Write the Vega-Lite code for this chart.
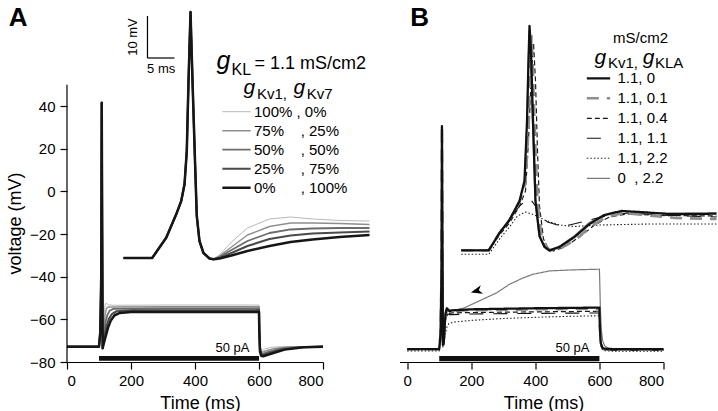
{
"$schema":"https://vega.github.io/schema/vega-lite/v6.json",
"background":"white",
"padding":{"left":6,"top":5,"right":0,"bottom":0},
"bounds":"flush",
"spacing":76.5,
"config":{"font":"Liberation Sans","view":{"stroke":null},
"axis":{"grid":false,"labelFont":"Liberation Sans","titleFont":"Liberation Sans","domainColor":"#000","tickColor":"#000","labelColor":"#000","titleColor":"#000","titleFontWeight":"normal","labelFontSize":15,"titleFontSize":18,"tickSize":7,"domainWidth":1.2,"tickWidth":1.2},
"legend":{"labelFont":"Liberation Sans","labelColor":"#000"},
"text":{"font":"Liberation Sans","color":"#000"}},
"datasets":{
"amain":[
{"s":"A1","t":0,"v":-72.8},{"s":"A1","t":100,"v":-72.8},{"s":"A1","t":104,"v":-66},{"s":"A1","t":107,"v":-40},{"s":"A1","t":108.5,"v":41.5},{"s":"A1","t":110,"v":-20},{"s":"A1","t":111.5,"v":-73.5},
{"s":"A1","t":113,"v":-70},{"s":"A1","t":115,"v":-62},{"s":"A1","t":117,"v":-55.5},{"s":"A1","t":120,"v":-52.7},{"s":"A1","t":124,"v":-52.6},{"s":"A1","t":130,"v":-53.2},{"s":"A1","t":145,"v":-53.4},{"s":"A1","t":300,"v":-53.3},{"s":"A1","t":600,"v":-53.3},{"s":"A1","t":601,"v":-62},{"s":"A1","t":603,"v":-71},{"s":"A1","t":606,"v":-74.3},{"s":"A1","t":610,"v":-74.5},{"s":"A1","t":620,"v":-73.8},{"s":"A1","t":640,"v":-73.1},{"s":"A1","t":670,"v":-72.8},{"s":"A1","t":800,"v":-72.8},
{"s":"A2","t":0,"v":-72.8},{"s":"A2","t":100,"v":-72.8},{"s":"A2","t":104,"v":-66},{"s":"A2","t":107,"v":-40},{"s":"A2","t":108.5,"v":41.5},{"s":"A2","t":110,"v":-20},{"s":"A2","t":111.5,"v":-73.5},
{"s":"A2","t":113,"v":-71},{"s":"A2","t":116,"v":-64},{"s":"A2","t":119,"v":-58},{"s":"A2","t":123,"v":-55},{"s":"A2","t":128,"v":-54.2},{"s":"A2","t":140,"v":-54.2},{"s":"A2","t":300,"v":-54.1},{"s":"A2","t":600,"v":-54.1},{"s":"A2","t":601,"v":-63},{"s":"A2","t":603,"v":-72},{"s":"A2","t":606,"v":-75.2},{"s":"A2","t":611,"v":-75.4},{"s":"A2","t":625,"v":-74.6},{"s":"A2","t":650,"v":-73.6},{"s":"A2","t":690,"v":-73.0},{"s":"A2","t":800,"v":-72.8},
{"s":"A3","t":0,"v":-72.8},{"s":"A3","t":100,"v":-72.8},{"s":"A3","t":104,"v":-66},{"s":"A3","t":107,"v":-40},{"s":"A3","t":108.5,"v":41.5},{"s":"A3","t":110,"v":-20},{"s":"A3","t":111.5,"v":-73.5},
{"s":"A3","t":113,"v":-71.5},{"s":"A3","t":117,"v":-66},{"s":"A3","t":121,"v":-61},{"s":"A3","t":126,"v":-58},{"s":"A3","t":133,"v":-56},{"s":"A3","t":145,"v":-55.1},{"s":"A3","t":300,"v":-54.9},{"s":"A3","t":600,"v":-54.9},{"s":"A3","t":601,"v":-64},{"s":"A3","t":603,"v":-73},{"s":"A3","t":607,"v":-76},{"s":"A3","t":612,"v":-76.2},{"s":"A3","t":630,"v":-75.2},{"s":"A3","t":660,"v":-74.0},{"s":"A3","t":710,"v":-73.1},{"s":"A3","t":800,"v":-72.8},
{"s":"A4","t":0,"v":-72.8},{"s":"A4","t":100,"v":-72.8},{"s":"A4","t":104,"v":-66},{"s":"A4","t":107,"v":-40},{"s":"A4","t":108.5,"v":41.5},{"s":"A4","t":110,"v":-20},{"s":"A4","t":111.5,"v":-73.5},
{"s":"A4","t":113,"v":-72},{"s":"A4","t":118,"v":-67.5},{"s":"A4","t":124,"v":-63},{"s":"A4","t":131,"v":-59.8},{"s":"A4","t":140,"v":-57.6},{"s":"A4","t":155,"v":-56.2},{"s":"A4","t":200,"v":-55.8},{"s":"A4","t":600,"v":-55.7},{"s":"A4","t":601,"v":-65},{"s":"A4","t":603,"v":-74},{"s":"A4","t":607,"v":-76.6},{"s":"A4","t":612,"v":-76.8},{"s":"A4","t":635,"v":-75.7},{"s":"A4","t":670,"v":-74.2},{"s":"A4","t":730,"v":-73.1},{"s":"A4","t":800,"v":-72.8},
{"s":"A5","t":0,"v":-72.8},{"s":"A5","t":100,"v":-72.8},{"s":"A5","t":104,"v":-66},{"s":"A5","t":107,"v":-40},{"s":"A5","t":108.5,"v":41.5},{"s":"A5","t":110,"v":-20},{"s":"A5","t":111.5,"v":-73.5},
{"s":"A5","t":113,"v":-72.5},{"s":"A5","t":120,"v":-68.5},{"s":"A5","t":128,"v":-64},{"s":"A5","t":137,"v":-60.5},{"s":"A5","t":148,"v":-58.2},{"s":"A5","t":165,"v":-57},{"s":"A5","t":200,"v":-56.6},{"s":"A5","t":600,"v":-56.5},{"s":"A5","t":601,"v":-66},{"s":"A5","t":603,"v":-75},{"s":"A5","t":607,"v":-77.1},{"s":"A5","t":613,"v":-77.3},{"s":"A5","t":640,"v":-76.0},{"s":"A5","t":680,"v":-74.2},{"s":"A5","t":740,"v":-73.1},{"s":"A5","t":800,"v":-72.8}
],
"ainset":[
{"s":"A1","t":0,"v":-60},{"s":"A1","t":5.31,"v":-60},{"s":"A1","t":7.91,"v":-55.17},{"s":"A1","t":9.76,"v":-49.6},{"s":"A1","t":10.69,"v":-46.43},{"s":"A1","t":11.3,"v":-42.45},{"s":"A1","t":11.72,"v":-34.52},{"s":"A1","t":12.04,"v":-17.86},{"s":"A1","t":12.41,"v":-1.43},{"s":"A1","t":12.78,"v":-17.86},{"s":"A1","t":13.24,"v":-36.9},{"s":"A1","t":13.57,"v":-50.0},{"s":"A1","t":14.07,"v":-55.95},{"s":"A1","t":14.81,"v":-58.81},{"s":"A1","t":15.93,"v":-60.12},{"s":"A1","t":16.67,"v":-60.31},
{"s":"A1","t":17.78,"v":-59.29},{"s":"A1","t":20.0,"v":-56.19},{"s":"A1","t":22.96,"v":-52.86},{"s":"A1","t":27.04,"v":-50.71},{"s":"A1","t":30.93,"v":-50.24},{"s":"A1","t":35.0,"v":-50.71},{"s":"A1","t":40.0,"v":-51.07},{"s":"A1","t":45.56,"v":-51.19},
{"s":"A2","t":0,"v":-60},{"s":"A2","t":5.31,"v":-60},{"s":"A2","t":7.91,"v":-55.17},{"s":"A2","t":9.76,"v":-49.6},{"s":"A2","t":10.69,"v":-46.43},{"s":"A2","t":11.3,"v":-42.45},{"s":"A2","t":11.72,"v":-34.52},{"s":"A2","t":12.04,"v":-17.86},{"s":"A2","t":12.41,"v":-1.43},{"s":"A2","t":12.78,"v":-17.86},{"s":"A2","t":13.24,"v":-36.9},{"s":"A2","t":13.57,"v":-50.0},{"s":"A2","t":14.07,"v":-55.95},{"s":"A2","t":14.81,"v":-58.81},{"s":"A2","t":15.93,"v":-60.12},{"s":"A2","t":16.67,"v":-60.31},
{"s":"A2","t":17.78,"v":-59.52},{"s":"A2","t":20.0,"v":-57.38},{"s":"A2","t":22.96,"v":-54.52},{"s":"A2","t":27.04,"v":-52.5},{"s":"A2","t":30.93,"v":-51.67},{"s":"A2","t":35.0,"v":-51.67},{"s":"A2","t":40.0,"v":-51.79},{"s":"A2","t":45.56,"v":-52.02},
{"s":"A3","t":0,"v":-60},{"s":"A3","t":5.31,"v":-60},{"s":"A3","t":7.91,"v":-55.17},{"s":"A3","t":9.76,"v":-49.6},{"s":"A3","t":10.69,"v":-46.43},{"s":"A3","t":11.3,"v":-42.45},{"s":"A3","t":11.72,"v":-34.52},{"s":"A3","t":12.04,"v":-17.86},{"s":"A3","t":12.41,"v":-1.43},{"s":"A3","t":12.78,"v":-17.86},{"s":"A3","t":13.24,"v":-36.9},{"s":"A3","t":13.57,"v":-50.0},{"s":"A3","t":14.07,"v":-55.95},{"s":"A3","t":14.81,"v":-58.81},{"s":"A3","t":15.93,"v":-60.12},{"s":"A3","t":16.67,"v":-60.31},
{"s":"A3","t":17.78,"v":-59.76},{"s":"A3","t":20.0,"v":-58.1},{"s":"A3","t":22.96,"v":-55.95},{"s":"A3","t":27.04,"v":-54.05},{"s":"A3","t":30.93,"v":-53.21},{"s":"A3","t":35.0,"v":-52.98},{"s":"A3","t":40.0,"v":-52.86},{"s":"A3","t":45.56,"v":-52.86},
{"s":"A4","t":0,"v":-60},{"s":"A4","t":5.31,"v":-60},{"s":"A4","t":7.91,"v":-55.17},{"s":"A4","t":9.76,"v":-49.6},{"s":"A4","t":10.69,"v":-46.43},{"s":"A4","t":11.3,"v":-42.45},{"s":"A4","t":11.72,"v":-34.52},{"s":"A4","t":12.04,"v":-17.86},{"s":"A4","t":12.41,"v":-1.43},{"s":"A4","t":12.78,"v":-17.86},{"s":"A4","t":13.24,"v":-36.9},{"s":"A4","t":13.57,"v":-50.0},{"s":"A4","t":14.07,"v":-55.95},{"s":"A4","t":14.81,"v":-58.81},{"s":"A4","t":15.93,"v":-60.12},{"s":"A4","t":16.67,"v":-60.31},
{"s":"A4","t":17.78,"v":-60.0},{"s":"A4","t":20.0,"v":-58.81},{"s":"A4","t":22.96,"v":-57.14},{"s":"A4","t":27.04,"v":-55.48},{"s":"A4","t":30.93,"v":-54.64},{"s":"A4","t":35.0,"v":-54.17},{"s":"A4","t":40.0,"v":-53.93},{"s":"A4","t":45.56,"v":-53.69},
{"s":"A5","t":0,"v":-60},{"s":"A5","t":5.31,"v":-60},{"s":"A5","t":7.91,"v":-55.17},{"s":"A5","t":9.76,"v":-49.6},{"s":"A5","t":10.69,"v":-46.43},{"s":"A5","t":11.3,"v":-42.45},{"s":"A5","t":11.72,"v":-34.52},{"s":"A5","t":12.04,"v":-17.86},{"s":"A5","t":12.41,"v":-1.43},{"s":"A5","t":12.78,"v":-17.86},{"s":"A5","t":13.24,"v":-36.9},{"s":"A5","t":13.57,"v":-50.0},{"s":"A5","t":14.07,"v":-55.95},{"s":"A5","t":14.81,"v":-58.81},{"s":"A5","t":15.93,"v":-60.12},{"s":"A5","t":16.67,"v":-60.31},
{"s":"A5","t":17.78,"v":-60.12},{"s":"A5","t":20.0,"v":-59.4},{"s":"A5","t":22.96,"v":-58.33},{"s":"A5","t":27.04,"v":-57.14},{"s":"A5","t":30.93,"v":-56.19},{"s":"A5","t":35.0,"v":-55.6},{"s":"A5","t":40.0,"v":-55.0},{"s":"A5","t":45.56,"v":-54.52}
],
"bmain":[
{"s":"B6","t":0,"v":-74},{"s":"B6","t":100,"v":-74},{"s":"B6","t":104,"v":-67},{"s":"B6","t":107,"v":-40},{"s":"B6","t":108.5,"v":30.6},{"s":"B6","t":110,"v":-20},{"s":"B6","t":111.5,"v":-72},
{"s":"B6","t":114,"v":-71},{"s":"B6","t":117,"v":-63},{"s":"B6","t":120,"v":-57},{"s":"B6","t":124,"v":-55},{"s":"B6","t":128,"v":-55.4},{"s":"B6","t":135,"v":-55.8},{"s":"B6","t":153,"v":-55.6},{"s":"B6","t":180,"v":-54.5},{"s":"B6","t":236,"v":-50.6},{"s":"B6","t":280,"v":-47.5},{"s":"B6","t":319,"v":-43.6},{"s":"B6","t":360,"v":-40.7},{"s":"B6","t":392,"v":-38.9},{"s":"B6","t":444,"v":-37.3},{"s":"B6","t":517,"v":-36.8},{"s":"B6","t":600,"v":-36.5},{"s":"B6","t":601,"v":-42},{"s":"B6","t":603,"v":-55},{"s":"B6","t":606,"v":-65},{"s":"B6","t":610,"v":-70},{"s":"B6","t":616,"v":-72.3},{"s":"B6","t":625,"v":-73.3},{"s":"B6","t":650,"v":-73.9},{"s":"B6","t":800,"v":-74},
{"s":"B5","t":0,"v":-74.8},{"s":"B5","t":100,"v":-74.8},{"s":"B5","t":104,"v":-68},{"s":"B5","t":107,"v":-42},{"s":"B5","t":108.5,"v":28},{"s":"B5","t":110,"v":-22},{"s":"B5","t":111.5,"v":-73},{"s":"B5","t":114,"v":-72.5},{"s":"B5","t":118,"v":-68},{"s":"B5","t":123,"v":-64},{"s":"B5","t":130,"v":-62},{"s":"B5","t":145,"v":-61.3},{"s":"B5","t":200,"v":-60.5},{"s":"B5","t":300,"v":-59.6},{"s":"B5","t":450,"v":-58.8},{"s":"B5","t":600,"v":-58.3},{"s":"B5","t":601,"v":-64},{"s":"B5","t":605,"v":-72.5},{"s":"B5","t":612,"v":-74.6},{"s":"B5","t":640,"v":-74.9},{"s":"B5","t":800,"v":-74.9},
{"s":"B4","t":0,"v":-74},{"s":"B4","t":100,"v":-74},{"s":"B4","t":104,"v":-67},{"s":"B4","t":107,"v":-40},{"s":"B4","t":108.5,"v":30.6},{"s":"B4","t":110,"v":-20},{"s":"B4","t":111.5,"v":-72},
{"s":"B4","t":114,"v":-72},{"s":"B4","t":117,"v":-66},{"s":"B4","t":121,"v":-60},{"s":"B4","t":126,"v":-57.5},{"s":"B4","t":132,"v":-57.8},{"s":"B4","t":140,"v":-57.8},{"s":"B4","t":200,"v":-57.5},{"s":"B4","t":400,"v":-57.2},{"s":"B4","t":600,"v":-57.0},{"s":"B4","t":601,"v":-64},{"s":"B4","t":604,"v":-72.5},{"s":"B4","t":610,"v":-74.2},{"s":"B4","t":630,"v":-74.5},{"s":"B4","t":800,"v":-74.5},
{"s":"B3","t":0,"v":-74},{"s":"B3","t":100,"v":-74},{"s":"B3","t":104,"v":-67},{"s":"B3","t":107,"v":-40},{"s":"B3","t":108.5,"v":30.6},{"s":"B3","t":110,"v":-20},{"s":"B3","t":111.5,"v":-72},
{"s":"B3","t":114,"v":-71.8},{"s":"B3","t":117,"v":-65},{"s":"B3","t":120,"v":-59},{"s":"B3","t":124,"v":-56},{"s":"B3","t":128,"v":-56.4},{"s":"B3","t":132,"v":-57.2},{"s":"B3","t":140,"v":-57},{"s":"B3","t":200,"v":-56.8},{"s":"B3","t":400,"v":-56.5},{"s":"B3","t":600,"v":-56.2},{"s":"B3","t":601,"v":-63},{"s":"B3","t":604,"v":-72},{"s":"B3","t":610,"v":-74},{"s":"B3","t":630,"v":-74.3},{"s":"B3","t":800,"v":-74.4},
{"s":"B2","t":0,"v":-74},{"s":"B2","t":100,"v":-74},{"s":"B2","t":104,"v":-67},{"s":"B2","t":107,"v":-40},{"s":"B2","t":108.5,"v":30.6},{"s":"B2","t":110,"v":-20},{"s":"B2","t":111.5,"v":-72},
{"s":"B2","t":114,"v":-71.5},{"s":"B2","t":117,"v":-64},{"s":"B2","t":120,"v":-58},{"s":"B2","t":124,"v":-55.3},{"s":"B2","t":128,"v":-55.8},{"s":"B2","t":132,"v":-56.4},{"s":"B2","t":140,"v":-56.1},{"s":"B2","t":200,"v":-55.7},{"s":"B2","t":400,"v":-55.3},{"s":"B2","t":600,"v":-55.0},{"s":"B2","t":601,"v":-62},{"s":"B2","t":604,"v":-71},{"s":"B2","t":610,"v":-73.8},{"s":"B2","t":630,"v":-74.2},{"s":"B2","t":800,"v":-74.2},
{"s":"B1","t":0,"v":-74},{"s":"B1","t":100,"v":-74},{"s":"B1","t":104,"v":-67},{"s":"B1","t":107,"v":-40},{"s":"B1","t":108.5,"v":30.6},{"s":"B1","t":110,"v":-20},{"s":"B1","t":111.5,"v":-72},
{"s":"B1","t":114,"v":-71},{"s":"B1","t":117,"v":-63},{"s":"B1","t":120,"v":-57},{"s":"B1","t":124,"v":-54.8},{"s":"B1","t":128,"v":-55.5},{"s":"B1","t":132,"v":-56.2},{"s":"B1","t":140,"v":-55.8},{"s":"B1","t":200,"v":-55.3},{"s":"B1","t":400,"v":-54.8},{"s":"B1","t":600,"v":-54.5},{"s":"B1","t":601,"v":-62},{"s":"B1","t":604,"v":-71},{"s":"B1","t":610,"v":-73.6},{"s":"B1","t":630,"v":-74},{"s":"B1","t":800,"v":-74}
],
"binset":[
{"s":"B6","t":0,"v":-60},{"s":"B6","t":5.11,"v":-60},{"s":"B6","t":7.09,"v":-55.88},{"s":"B6","t":8.94,"v":-52.79},{"s":"B6","t":10.8,"v":-48.26},{"s":"B6","t":11.7,"v":-43.8},{"s":"B6","t":12.15,"v":-30},{"s":"B6","t":12.4,"v":-16},{"s":"B6","t":12.56,"v":-7.79},{"s":"B6","t":12.8,"v":-14},{"s":"B6","t":13.2,"v":-30},{"s":"B6","t":13.67,"v":-48},{"s":"B6","t":14.4,"v":-56.4},{"s":"B6","t":15.3,"v":-59.1},{"s":"B6","t":16.17,"v":-59.93},{"s":"B6","t":18.1,"v":-59.1},{"s":"B6","t":20.9,"v":-56.6},{"s":"B6","t":23.6,"v":-53.5},{"s":"B6","t":26.4,"v":-51.5},{"s":"B6","t":29.3,"v":-50.7},{"s":"B6","t":32.8,"v":-50.9},{"s":"B6","t":38.4,"v":-51.2},{"s":"B6","t":47.28,"v":-51.12},
{"s":"B5","t":0,"v":-60.95},{"s":"B5","t":5.11,"v":-60.95},{"s":"B5","t":7.09,"v":-57.31},{"s":"B5","t":8.94,"v":-54.45},{"s":"B5","t":10.43,"v":-51.83},{"s":"B5","t":11.91,"v":-50.88},{"s":"B5","t":13.57,"v":-51.6},{"s":"B5","t":15.43,"v":-52.79},{"s":"B5","t":18.2,"v":-53.98},{"s":"B5","t":20.98,"v":-54.33},{"s":"B5","t":25.61,"v":-53.98},{"s":"B5","t":34.87,"v":-53.74},{"s":"B5","t":47.28,"v":-53.74},
{"s":"B4","t":0,"v":-60},{"s":"B4","t":5.11,"v":-60},{"s":"B4","t":7.09,"v":-55.88},{"s":"B4","t":8.94,"v":-52.79},{"s":"B4","t":10.8,"v":-49.45},{"s":"B4","t":11.91,"v":-48.26},{"s":"B4","t":12.93,"v":-48.02},{"s":"B4","t":13.76,"v":-49.45},{"s":"B4","t":14.69,"v":-51.83},{"s":"B4","t":15.98,"v":-53.26},{"s":"B4","t":17.83,"v":-53.98},{"s":"B4","t":20.06,"v":-53.98},{"s":"B4","t":23.76,"v":-52.79},{"s":"B4","t":27.46,"v":-51.6},{"s":"B4","t":31.17,"v":-51.12},{"s":"B4","t":36.72,"v":-51.6},{"s":"B4","t":47.28,"v":-52.07},
{"s":"B3","t":0,"v":-60},{"s":"B3","t":5.11,"v":-60},{"s":"B3","t":7.09,"v":-56.36},{"s":"B3","t":8.94,"v":-53.5},{"s":"B3","t":10.8,"v":-49.45},{"s":"B3","t":11.91,"v":-45.88},{"s":"B3","t":12.46,"v":-33.98},{"s":"B3","t":13.02,"v":-17.31},{"s":"B3","t":13.39,"v":-10.57},{"s":"B3","t":13.76,"v":-19.69},{"s":"B3","t":14.13,"v":-36.36},{"s":"B3","t":14.5,"v":-49.45},{"s":"B3","t":15.24,"v":-57.31},{"s":"B3","t":16.17,"v":-59.69},{"s":"B3","t":17.09,"v":-60.17},{"s":"B3","t":19.13,"v":-59.21},{"s":"B3","t":21.91,"v":-56.83},{"s":"B3","t":24.69,"v":-53.98},{"s":"B3","t":27.46,"v":-52.07},{"s":"B3","t":30.8,"v":-51.36},{"s":"B3","t":36.72,"v":-51.71},{"s":"B3","t":47.28,"v":-51.83},
{"s":"B2","t":0,"v":-60},{"s":"B2","t":5.11,"v":-60},{"s":"B2","t":7.09,"v":-55.88},{"s":"B2","t":8.94,"v":-52.79},{"s":"B2","t":10.8,"v":-48.5},{"s":"B2","t":11.9,"v":-44},{"s":"B2","t":12.5,"v":-30},{"s":"B2","t":12.8,"v":-17},{"s":"B2","t":13.02,"v":-8.98},{"s":"B2","t":13.25,"v":-16},{"s":"B2","t":13.57,"v":-29.24},{"s":"B2","t":14.13,"v":-48.26},{"s":"B2","t":14.87,"v":-56.6},{"s":"B2","t":15.8,"v":-59.2},{"s":"B2","t":16.54,"v":-60.05},{"s":"B2","t":18.57,"v":-59.45},{"s":"B2","t":21.35,"v":-57.3},{"s":"B2","t":24.13,"v":-54.21},{"s":"B2","t":26.91,"v":-52.07},{"s":"B2","t":30.06,"v":-51.12},{"s":"B2","t":33.94,"v":-51.6},{"s":"B2","t":39.5,"v":-52.31},{"s":"B2","t":47.28,"v":-52.55},
{"s":"B1","t":0,"v":-60},{"s":"B1","t":5.11,"v":-60},{"s":"B1","t":7.09,"v":-55.88},{"s":"B1","t":8.94,"v":-52.79},{"s":"B1","t":10.8,"v":-48.26},{"s":"B1","t":11.72,"v":-43.5},{"s":"B1","t":12.19,"v":-29.24},{"s":"B1","t":12.46,"v":-14.93},{"s":"B1","t":12.65,"v":-6.6},{"s":"B1","t":12.93,"v":-12.55},{"s":"B1","t":13.3,"v":-29.24},{"s":"B1","t":13.76,"v":-48.26},{"s":"B1","t":14.5,"v":-56.6},{"s":"B1","t":15.43,"v":-59.2},{"s":"B1","t":16.35,"v":-60.05},{"s":"B1","t":18.2,"v":-59.2},{"s":"B1","t":20.98,"v":-56.83},{"s":"B1","t":23.76,"v":-53.74},{"s":"B1","t":26.54,"v":-51.6},{"s":"B1","t":29.69,"v":-50.64},{"s":"B1","t":33.02,"v":-50.88},{"s":"B1","t":38.57,"v":-51.36},{"s":"B1","t":44.13,"v":-51.36},{"s":"B1","t":47.28,"v":-51.24}
]
},
"hconcat":[
{
"width":256,"height":353,
"layer":[
{"layer":[
{"data":{"name":"amain"},"mark":{"type":"line","strokeJoin":"round"},
"encoding":{
"x":{"field":"t","type":"quantitative","scale":{"domain":[0,800],"nice":false,"zero":false},"axis":{"values":[0,200,400,600,800],"title":"Time (ms)","labelPadding":4,"titlePadding":6,"titleX":133}},
"y":{"field":"v","type":"quantitative","scale":{"domain":[-80,85.5],"nice":false,"zero":false},"axis":{"values":[-80,-60,-40,-20,0,20,40],"domain":false,"title":"voltage (mV)","labelPadding":5,"titlePadding":5,"titleY":214}},
"color":{"field":"s","type":"nominal","scale":{"domain":["A1","A2","A3","A4","A5"],"range":["#b9b9b9","#8e8e8e","#6c6c6c","#4a4a4a","#161616"]},
"legend":{"orient":"none","legendX":154,"legendY":95,"title":null,"padding":0,"symbolType":"stroke","symbolSize":800,"clipHeight":15.4,"labelFontSize":15,"rowPadding":3,"labelOffset":2,
"labelExpr":"datum.label=='A1'?'100%\u00a0, 0%':datum.label=='A2'?'75%\u00a0\u00a0\u00a0\u00a0, 25%':datum.label=='A3'?'50%\u00a0\u00a0\u00a0\u00a0, 50%':datum.label=='A4'?'25%\u00a0\u00a0\u00a0\u00a0, 75%':'0%\u00a0\u00a0\u00a0\u00a0\u00a0\u00a0, 100%'",
"encode":{"symbols":{"update":{"strokeWidth":{"signal":"datum.value=='A1'?1:datum.value=='A2'?1.4:datum.value=='A3'?1.8:datum.value=='A4'?2.1:2.5"}}}}}},
"strokeWidth":{"field":"s","type":"ordinal","scale":{"type":"ordinal","domain":["A1","A2","A3","A4","A5"],"range":[1,1.4,1.8,2.1,2.5]},"legend":null}
}},
{"data":{"values":[{}]},"mark":{"type":"rule","color":"#000","strokeWidth":1.2},"encoding":{"x":{"datum":0},"y":{"datum":-80},"y2":{"datum":50}}},
{"data":{"values":[{}]},"mark":{"type":"rect","color":"#111"},"encoding":{"x":{"datum":100},"x2":{"datum":600},"y":{"datum":-79.4},"y2":{"datum":-77.2}}},
{"data":{"values":[{}]},"mark":{"type":"text","text":"50 pA","fontSize":13,"align":"right","baseline":"middle"},"encoding":{"x":{"datum":570},"y":{"datum":-73.3}}},
{"data":{"values":[{}]},"mark":{"type":"text","text":"A","fontSize":26,"fontWeight":"bold","align":"left","baseline":"alphabetic"},"encoding":{"x":{"datum":-181.9},"y":{"datum":77.3}}},
{"data":{"values":[{}]},"mark":{"type":"text","text":"g","fontSize":25,"fontStyle":"italic","align":"left","baseline":"alphabetic"},"encoding":{"x":{"datum":467.2},"y":{"datum":57.4}}},
{"data":{"values":[{}]},"mark":{"type":"text","text":"KL","fontSize":16,"align":"left","baseline":"alphabetic"},"encoding":{"x":{"datum":514.1},"y":{"datum":54.6}}},
{"data":{"values":[{}]},"mark":{"type":"text","text":"= 1.1 mS/cm2","fontSize":18,"align":"left","baseline":"alphabetic"},"encoding":{"x":{"datum":586},"y":{"datum":57.4}}},
{"data":{"values":[{}]},"mark":{"type":"text","text":"g","fontSize":21,"fontStyle":"italic","align":"left","baseline":"alphabetic"},"encoding":{"x":{"datum":551.6},"y":{"datum":45.65}}},
{"data":{"values":[{}]},"mark":{"type":"text","text":"Kv1,","fontSize":15,"align":"left","baseline":"alphabetic"},"encoding":{"x":{"datum":593.5},"y":{"datum":43.3}}},
{"data":{"values":[{}]},"mark":{"type":"text","text":"g","fontSize":21,"fontStyle":"italic","align":"left","baseline":"alphabetic"},"encoding":{"x":{"datum":707.8},"y":{"datum":45.65}}},
{"data":{"values":[{}]},"mark":{"type":"text","text":"Kv7","fontSize":15,"align":"left","baseline":"alphabetic"},"encoding":{"x":{"datum":749.5},"y":{"datum":43.3}}}
]},
{"layer":[
{"data":{"name":"ainset"},"mark":{"type":"line","strokeJoin":"round"},
"encoding":{
"x":{"field":"t","type":"quantitative","scale":{"domain":[-10.463,36.944],"nice":false,"zero":false},"axis":null},
"y":{"field":"v","type":"quantitative","scale":{"domain":[-84.762,-0.714],"nice":false,"zero":false},"axis":null},
"color":{"field":"s","type":"nominal","scale":{"domain":["A1","A2","A3","A4","A5"],"range":["#b9b9b9","#8e8e8e","#6c6c6c","#4a4a4a","#161616"]},"legend":null},
"strokeWidth":{"field":"s","type":"ordinal","scale":{"type":"ordinal","domain":["A1","A2","A3","A4","A5"],"range":[1,1.4,1.8,2.1,2.5]},"legend":null}
}},
{"data":{"values":[{}]},"mark":{"type":"rule","color":"#000","strokeWidth":1.2},"encoding":{"x":{"datum":4.44},"y":{"datum":-12.38},"y2":{"datum":-2.38}}},
{"data":{"values":[{}]},"mark":{"type":"rule","color":"#000","strokeWidth":1.2},"encoding":{"x":{"datum":4.44},"x2":{"datum":9.44},"y":{"datum":-12.38}}},
{"data":{"values":[{}]},"mark":{"type":"text","text":"10 mV","fontSize":13,"angle":270,"align":"center","baseline":"middle"},"encoding":{"x":{"datum":1.67},"y":{"datum":-7.38}}},
{"data":{"values":[{}]},"mark":{"type":"text","text":"5 ms","fontSize":13,"align":"center","baseline":"middle"},"encoding":{"x":{"datum":6.98},"y":{"datum":-15.07}}}
]}
],
"resolve":{"scale":{"x":"independent","y":"independent"},"axis":{"x":"independent","y":"independent"}}
},
{
"width":264,"height":353,
"layer":[
{"layer":[
{"data":{"name":"bmain"},"mark":{"type":"line","strokeJoin":"round"},
"encoding":{
"x":{"field":"t","type":"quantitative","scale":{"domain":[-24,800],"nice":false,"zero":false},"axis":{"values":[0,200,400,600,800],"title":"Time (ms)","labelPadding":4,"titlePadding":6,"titleX":144}},
"y":{"field":"v","type":"quantitative","scale":{"domain":[-80,85.5],"nice":false,"zero":false},"axis":null},
"color":{"field":"s","type":"nominal","scale":{"domain":["B1","B2","B3","B4","B5","B6"],"range":["#111111","#8e8e8e","#1a1a1a","#111111","#222222","#7a7a7a"]},
"legend":{"orient":"none","legendX":186,"legendY":61.8,"title":null,"padding":0,"symbolType":"stroke","symbolSize":543,"clipHeight":15,"labelFontSize":15,"rowPadding":4,"labelOffset":6,
"labelExpr":"datum.label=='B1'?'1.1, 0':datum.label=='B2'?'1.1, 0.1':datum.label=='B3'?'1.1, 0.4':datum.label=='B4'?'1.1, 1.1':datum.label=='B5'?'1.1, 2.2':'\u00a00\u00a0\u00a0, 2.2'",
"encode":{"symbols":{"update":{"strokeWidth":{"signal":"datum.value=='B1'?2.3:datum.value=='B2'?2.6:datum.value=='B3'?1.2:datum.value=='B4'?1.1:datum.value=='B5'?1.1:1.2"},"strokeDash":{"signal":"datum.value=='B2'?[12,14]:datum.value=='B3'?[5,3]:datum.value=='B4'?[14,12]:datum.value=='B5'?[1.5,2]:[1,0]"}}}}}},
"strokeWidth":{"field":"s","type":"ordinal","scale":{"type":"ordinal","domain":["B1","B2","B3","B4","B5","B6"],"range":[2.3,2.6,1.2,1.1,1.1,1.2]},"legend":null},
"strokeDash":{"field":"s","type":"nominal","scale":{"domain":["B1","B2","B3","B4","B5","B6"],"range":[[1,0],[12,8],[5,3],[14,10],[1.5,2],[1,0]]},"legend":null}
}},
{"data":{"values":[{}]},"mark":{"type":"rect","color":"#111"},"encoding":{"x":{"datum":100},"x2":{"datum":600},"y":{"datum":-79.6},"y2":{"datum":-77.2}}},
{"data":{"values":[{}]},"mark":{"type":"text","text":"50 pA","fontSize":13,"align":"right","baseline":"middle"},"encoding":{"x":{"datum":569},"y":{"datum":-73.6}}},
{"data":{"values":[{}]},"mark":{"type":"point","shape":"M -1 0 L 1 -0.75 L 0.45 0 L 1 0.75 Z","filled":true,"color":"#000","opacity":1,"size":130,"angle":-15},"encoding":{"x":{"datum":216},"y":{"datum":-46.7}}},
{"data":{"values":[{}]},"mark":{"type":"text","text":"B","fontSize":26,"fontWeight":"bold","align":"left","baseline":"alphabetic"},"encoding":{"x":{"datum":9.4},"y":{"datum":77.3}}},
{"data":{"values":[{}]},"mark":{"type":"text","text":"mS/cm2","fontSize":15,"align":"center","baseline":"alphabetic"},"encoding":{"x":{"datum":728.2},"y":{"datum":69.33}}},
{"data":{"values":[{}]},"mark":{"type":"text","text":"g","fontSize":21,"fontStyle":"italic","align":"left","baseline":"alphabetic"},"encoding":{"x":{"datum":584.6},"y":{"datum":59.72}}},
{"data":{"values":[{}]},"mark":{"type":"text","text":"Kv1,","fontSize":15,"align":"left","baseline":"alphabetic"},"encoding":{"x":{"datum":626.8},"y":{"datum":57.84}}},
{"data":{"values":[{}]},"mark":{"type":"text","text":"g","fontSize":21,"fontStyle":"italic","align":"left","baseline":"alphabetic"},"encoding":{"x":{"datum":735},"y":{"datum":59.72}}},
{"data":{"values":[{}]},"mark":{"type":"text","text":"KLA","fontSize":15,"align":"left","baseline":"alphabetic"},"encoding":{"x":{"datum":773.5},"y":{"datum":57.84}}}
]},
{"layer":[
{"data":{"name":"binset"},"mark":{"type":"line","strokeJoin":"round"},
"encoding":{
"x":{"field":"t","type":"quantitative","scale":{"domain":[-11.426,37.463],"nice":false,"zero":false},"axis":null},
"y":{"field":"v","type":"quantitative","scale":{"domain":[-86.595,-2.548],"nice":false,"zero":false},"axis":null},
"color":{"field":"s","type":"nominal","scale":{"domain":["B1","B2","B3","B4","B5","B6"],"range":["#111111","#8e8e8e","#1a1a1a","#111111","#222222","#7a7a7a"]},"legend":null},
"strokeWidth":{"field":"s","type":"ordinal","scale":{"type":"ordinal","domain":["B1","B2","B3","B4","B5","B6"],"range":[2.3,2.6,1.2,1.1,1.1,1.2]},"legend":null},
"strokeDash":{"field":"s","type":"nominal","scale":{"domain":["B1","B2","B3","B4","B5","B6"],"range":[[1,0],[12,8],[5,3],[14,10],[1.5,2],[1,0]]},"legend":null}
}}
]}
],
"resolve":{"scale":{"x":"independent","y":"independent"},"axis":{"x":"independent","y":"independent"}}
}
],
"resolve":{"scale":{"x":"independent","y":"independent","color":"independent","strokeWidth":"independent","strokeDash":"independent"},"legend":{"color":"independent","strokeWidth":"independent","strokeDash":"independent"}}
}
